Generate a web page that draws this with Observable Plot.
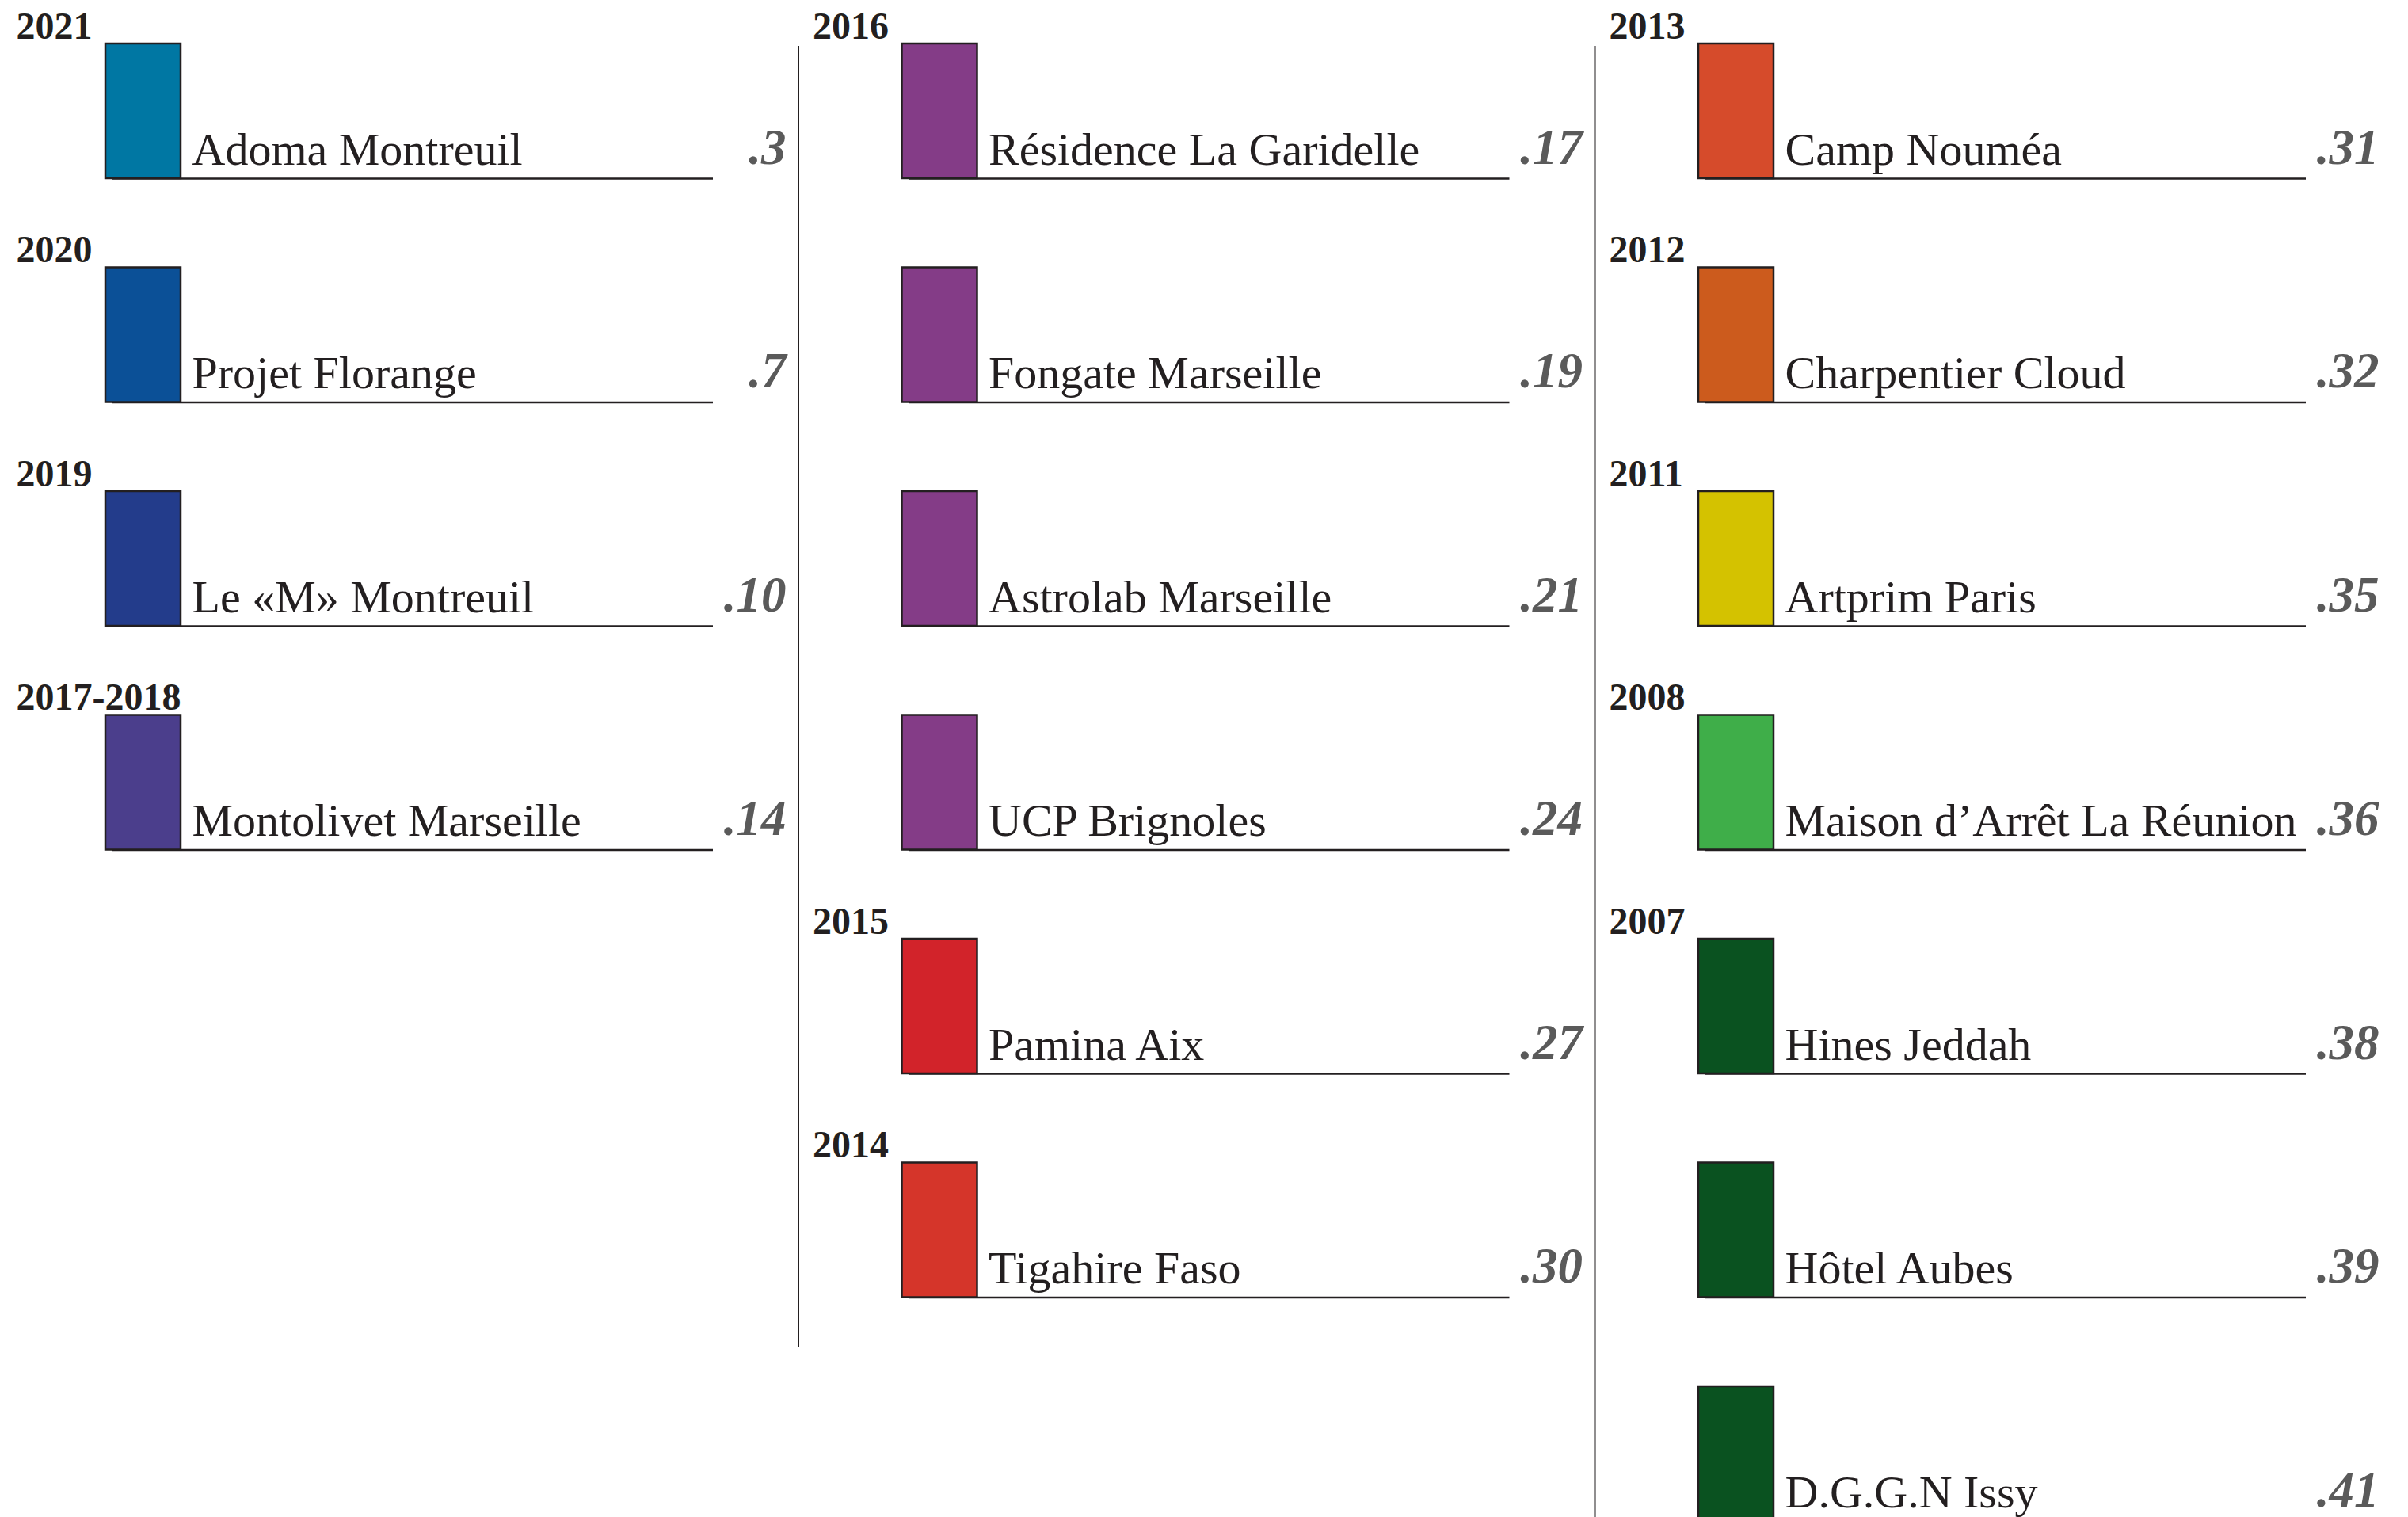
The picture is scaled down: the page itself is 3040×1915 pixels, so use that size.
<!DOCTYPE html>
<html>
<head>
<meta charset="utf-8">
<script src="https://cdn.jsdelivr.net/npm/d3@7"></script>
<script src="https://cdn.jsdelivr.net/npm/@observablehq/plot@0.6"></script>
<style>
  html, body { margin: 0; padding: 0; background: #ffffff; }
  #chart svg { display: block; }
</style>
</head>
<body>
<div id="chart"></div>
<script>
// ---- Data ----
const projects = [
  "Adoma Montreuil", "Projet Florange", "Le «M» Montreuil", "Montolivet Marseille",
  "Résidence La Garidelle", "Fongate Marseille", "Astrolab Marseille", "UCP Brignoles",
  "Pamina Aix", "Tigahire Faso",
  "Camp Nouméa", "Charpentier Cloud", "Artprim Paris", "Maison d’Arrêt La Réunion",
  "Hines Jeddah", "Hôtel Aubes", "D.G.G.N Issy"
];
const years = [
  "2021", "2020", "2019", "2017-2018",
  "2016", "2016", "2016", "2016", "2015", "2014",
  "2013", "2012", "2011", "2008", "2007", "2007", "2007"
];
const pages = ["3", "7", "10", "14", "17", "19", "21", "24", "27", "30", "31", "32", "35", "36", "38", "39", "41"];
const columnSizes = [4, 6, 7];
const palette = [
  "#0077a3", "#0b5097", "#233c8b", "#4b3e8c",
  "#843c87", "#843c87", "#843c87", "#843c87",
  "#d2232a", "#d5352a",
  "#d64b2b", "#cc5b1d", "#d4c200", "#3fae49",
  "#0a5220", "#0a5220", "#0a5220"
];

// ---- Layout helpers (column / slot units) ----
const CW = 1005.5, RH = 282.5, BOX_H = 170;
const entries = [];
{
  let i = 0;
  columnSizes.forEach((n, col) => {
    for (let slot = 0; slot < n; slot++, i++) {
      entries.push({name: projects[i], year: years[i], page: pages[i], col, slot});
    }
  });
}
const yearHeads = entries.filter((d, i) => i === 0 || entries[i - 1].year !== d.year);
const separators = [1, 2];

const serif = "'Liberation Serif', 'Times New Roman', Times, serif";
const ink = "#231f20";

const chart = Plot.plot({
  width: 3040,
  height: 1915,
  margin: 0,
  style: {background: "#ffffff", overflow: "hidden"},
  x: {domain: [0, 3], range: [2, 2 + 3 * CW], axis: null},
  y: {domain: [0, 1], range: [55, 55 + RH], axis: null},
  color: {domain: projects, range: palette},
  marks: [
    Plot.ruleX(separators, {
      x: d => d,
      y1: 3 / RH,
      y2: d => (columnSizes[d] - 1) + (BOX_H + 63) / RH,
      stroke: ink, strokeWidth: 2
    }),
    Plot.ruleY(entries, {
      y: d => d.slot + BOX_H / RH,
      x1: d => d.col + 140 / CW,
      x2: d => d.col + 898 / CW,
      stroke: ink, strokeWidth: 2.5
    }),
    Plot.rect(entries, {
      x1: d => d.col + 131 / CW,
      x2: d => d.col + 226 / CW,
      y1: d => d.slot,
      y2: d => d.slot + BOX_H / RH,
      fill: "name",
      stroke: ink, strokeWidth: 2.5
    }),
    Plot.text(entries, {
      x: d => d.col + 240 / CW,
      y: d => d.slot + (BOX_H - 18) / RH,
      text: "name",
      textAnchor: "start", lineAnchor: "bottom",
      fontSize: 58, fontFamily: serif, fill: ink
    }),
    Plot.text(entries, {
      x: d => d.col + 990 / CW,
      y: d => d.slot + (BOX_H - 19) / RH,
      text: d => "." + d.page,
      textAnchor: "end", lineAnchor: "bottom",
      fontSize: 63, fontFamily: serif, fontWeight: "bold", fontStyle: "italic",
      fill: "#5a5a5a"
    }),
    Plot.text(yearHeads, {
      x: d => d.col + 18 / CW,
      y: d => d.slot - 7 / RH,
      text: "year",
      textAnchor: "start", lineAnchor: "bottom",
      fontSize: 48, fontFamily: serif, fontWeight: "bold", fill: ink
    })
  ]
});
document.getElementById("chart").append(chart);
</script>
</body>
</html>
